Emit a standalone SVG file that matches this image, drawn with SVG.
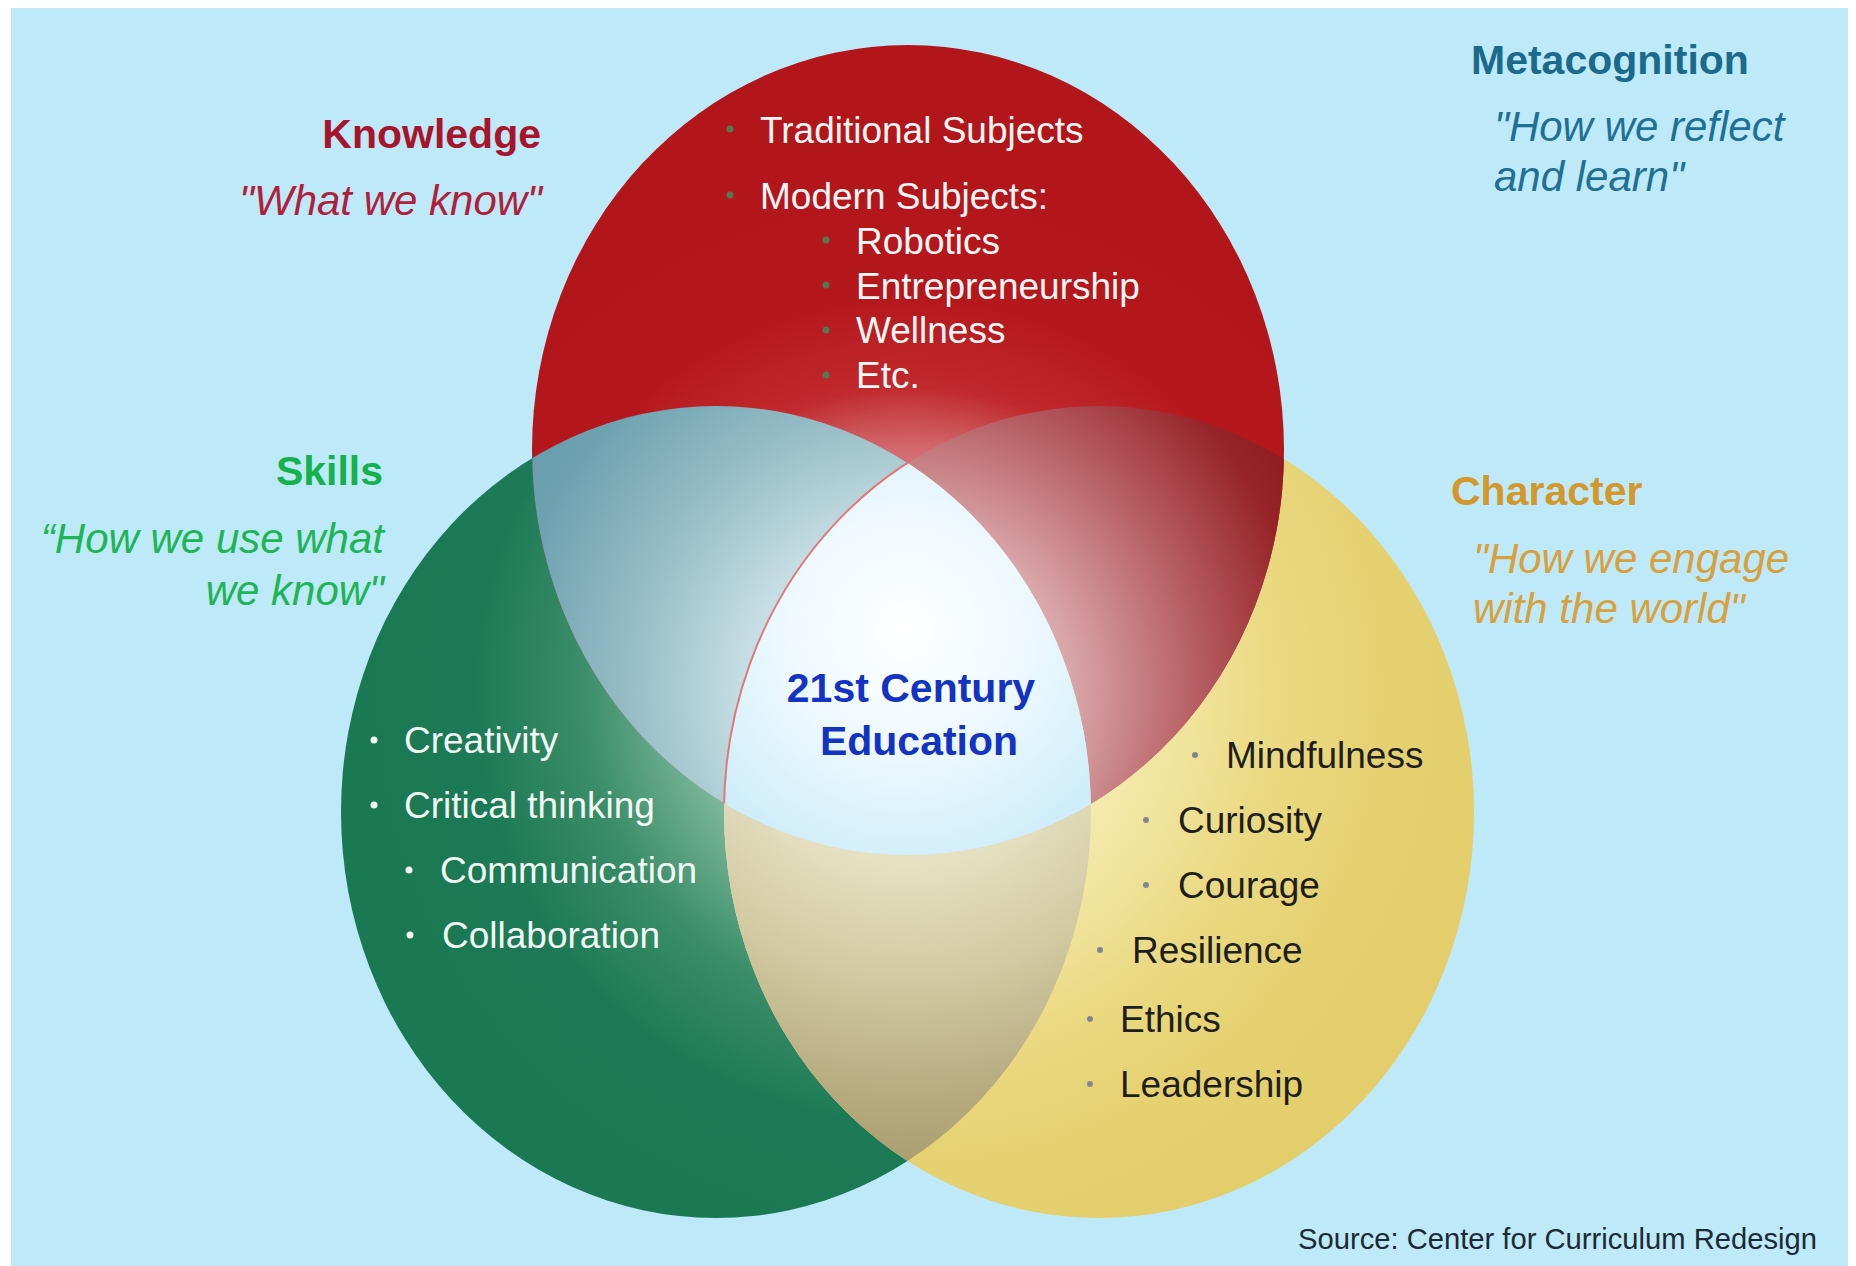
<svg xmlns="http://www.w3.org/2000/svg" width="1856" height="1266" viewBox="0 0 1856 1266">
<style>
text{font-family:"Liberation Sans",Arial,sans-serif}
.ttl{font-size:41px;font-weight:bold}
.sub{font-size:42px;font-style:italic}
.itm{font-size:37px}
.wt{fill:#FFF6F6}
.gt{fill:#F2F8F2}
.yt{fill:#1E1E1E}
.rb{fill:#55774A}
.gb{fill:#F4F8F4}
.yb{fill:#85858F}
</style>
<defs>
<clipPath id="cR"><ellipse cx="908" cy="450" rx="376" ry="405"/></clipPath>
<clipPath id="cG"><ellipse cx="716" cy="812" rx="375" ry="406"/></clipPath>
<clipPath id="cY"><ellipse cx="1099" cy="812" rx="375" ry="406"/></clipPath>
<radialGradient id="gRed" gradientUnits="userSpaceOnUse" cx="908" cy="700" r="560">
<stop offset="0" stop-color="#F2C8CA"/>
<stop offset="0.45" stop-color="#D26A6E"/>
<stop offset="0.56" stop-color="#C0292D"/>
<stop offset="0.72" stop-color="#B5181C"/>
<stop offset="1" stop-color="#B2161A"/>
</radialGradient>
<radialGradient id="gGreen" gradientUnits="userSpaceOnUse" cx="908" cy="690" r="540">
<stop offset="0" stop-color="#DDEEE5"/>
<stop offset="0.4" stop-color="#7DB79C"/>
<stop offset="0.6" stop-color="#3B8E69"/>
<stop offset="0.8" stop-color="#1C7B56"/>
<stop offset="1" stop-color="#1A7853"/>
</radialGradient>
<radialGradient id="gYellow" gradientUnits="userSpaceOnUse" cx="908" cy="690" r="600">
<stop offset="0" stop-color="#FFFBE8"/>
<stop offset="0.4" stop-color="#F3E8A8"/>
<stop offset="0.6" stop-color="#EBDA84"/>
<stop offset="0.8" stop-color="#E5D170"/>
<stop offset="1" stop-color="#E3CE6B"/>
</radialGradient>
<radialGradient id="gRG" gradientUnits="userSpaceOnUse" cx="908" cy="690" r="470">
<stop offset="0" stop-color="#EAF5F7"/>
<stop offset="0.35" stop-color="#C5DEE3"/>
<stop offset="0.6" stop-color="#96BCC6"/>
<stop offset="0.85" stop-color="#6EA2B1"/>
<stop offset="1" stop-color="#649BAB"/>
</radialGradient>
<radialGradient id="gRY" gradientUnits="userSpaceOnUse" cx="908" cy="690" r="470">
<stop offset="0" stop-color="#F2DADB"/>
<stop offset="0.35" stop-color="#D9A5A8"/>
<stop offset="0.6" stop-color="#B86266"/>
<stop offset="0.85" stop-color="#962429"/>
<stop offset="1" stop-color="#8A171C"/>
</radialGradient>
<radialGradient id="gGY" gradientUnits="userSpaceOnUse" cx="908" cy="700" r="470">
<stop offset="0" stop-color="#F4F1E0"/>
<stop offset="0.35" stop-color="#E6E0C2"/>
<stop offset="0.6" stop-color="#D2C9A2"/>
<stop offset="0.85" stop-color="#B6AA7E"/>
<stop offset="1" stop-color="#AA9D70"/>
</radialGradient>
<radialGradient id="gC" gradientUnits="userSpaceOnUse" cx="905" cy="630" r="240">
<stop offset="0" stop-color="#FFFFFF"/>
<stop offset="0.5" stop-color="#EEF9FE"/>
<stop offset="1" stop-color="#CFEEFA"/>
</radialGradient>
</defs>

<rect x="0" y="0" width="1856" height="1266" fill="#FFFFFF"/>
<rect x="11" y="8" width="1837" height="1258" fill="#BDE9F9"/>

<g id="venn">
<ellipse id="circle-skills" cx="716" cy="812" rx="375" ry="406" fill="url(#gGreen)"/>
<ellipse id="circle-character" cx="1099" cy="812" rx="375" ry="406" fill="url(#gYellow)"/>
<ellipse id="circle-knowledge" cx="908" cy="450" rx="376" ry="405" fill="url(#gRed)"/>
<g clip-path="url(#cR)"><ellipse cx="716" cy="812" rx="375" ry="406" fill="url(#gRG)"/></g>
<g clip-path="url(#cR)"><ellipse cx="1099" cy="812" rx="375" ry="406" fill="url(#gRY)"/></g>
<g clip-path="url(#cG)"><ellipse cx="1099" cy="812" rx="375" ry="406" fill="url(#gGY)"/></g>
<g clip-path="url(#cR)"><g clip-path="url(#cG)">
<ellipse cx="1099" cy="812" rx="375" ry="406" fill="url(#gC)" stroke="#E07A7A" stroke-width="2"/>
</g></g>
</g>

<g id="connectors"/>

<g id="knowledge">
<text class="ttl" x="541" y="148" text-anchor="end" fill="#A8142B">Knowledge</text>
<text class="sub" x="542" y="215" text-anchor="end" fill="#B0203A">"What we know"</text>
<circle class="rb" cx="730" cy="129" r="3.5"/>
<text class="itm wt" x="760" y="143">Traditional Subjects</text>
<circle class="rb" cx="730" cy="195" r="3.5"/>
<text class="itm wt" x="760" y="209">Modern Subjects:</text>
<circle class="rb" cx="826" cy="240" r="3.5"/>
<text class="itm wt" x="856" y="254">Robotics</text>
<circle class="rb" cx="826" cy="285" r="3.5"/>
<text class="itm wt" x="856" y="299">Entrepreneurship</text>
<circle class="rb" cx="826" cy="330" r="3.5"/>
<text class="itm wt" x="856" y="343">Wellness</text>
<circle class="rb" cx="826" cy="375" r="3.5"/>
<text class="itm wt" x="856" y="388">Etc.</text>
</g>

<g id="skills">
<text class="ttl" x="383" y="485" text-anchor="end" fill="#14B24C">Skills</text>
<text class="sub" x="384" y="553" text-anchor="end" fill="#1DB555">“How we use what</text>
<text class="sub" x="384" y="605" text-anchor="end" fill="#1DB555">we know"</text>
<circle class="gb" cx="374" cy="740" r="3.5"/>
<text class="itm gt" x="404" y="753">Creativity</text>
<circle class="gb" cx="374" cy="805" r="3.5"/>
<text class="itm gt" x="404" y="818">Critical thinking</text>
<circle class="gb" cx="409" cy="870" r="3.5"/>
<text class="itm gt" x="440" y="883">Communication</text>
<circle class="gb" cx="410" cy="935" r="3.5"/>
<text class="itm gt" x="442" y="948">Collaboration</text>
</g>

<g id="metacognition">
<text class="ttl" x="1471" y="74" fill="#1B6A8C">Metacognition</text>
<text class="sub" x="1494" y="141" fill="#1F7095">"How we reflect</text>
<text class="sub" x="1494" y="191" fill="#1F7095">and learn"</text>
</g>

<g id="character">
<text class="ttl" x="1451" y="505" fill="#D4972A">Character</text>
<text class="sub" x="1473" y="573" fill="#D9A03E">"How we engage</text>
<text class="sub" x="1473" y="623" fill="#D9A03E">with the world"</text>
<circle class="yb" cx="1195" cy="755" r="3"/>
<text class="itm yt" x="1226" y="768">Mindfulness</text>
<circle class="yb" cx="1146" cy="820" r="3"/>
<text class="itm yt" x="1178" y="833">Curiosity</text>
<circle class="yb" cx="1146" cy="885" r="3"/>
<text class="itm yt" x="1178" y="898">Courage</text>
<circle class="yb" cx="1100" cy="950" r="3"/>
<text class="itm yt" x="1132" y="963">Resilience</text>
<circle class="yb" cx="1090" cy="1019" r="3"/>
<text class="itm yt" x="1120" y="1032">Ethics</text>
<circle class="yb" cx="1090" cy="1084" r="3"/>
<text class="itm yt" x="1120" y="1097">Leadership</text>
</g>

<g id="center">
<text class="ttl" x="911" y="702" text-anchor="middle" fill="#1233C4">21st Century</text>
<text class="ttl" x="919" y="755" text-anchor="middle" fill="#1233C4">Education</text>
</g>

<g id="source">
<text x="1298" y="1249" font-size="30" fill="#1C2A33" textLength="519" lengthAdjust="spacingAndGlyphs">Source: Center for Curriculum  Redesign</text>
</g>
</svg>
